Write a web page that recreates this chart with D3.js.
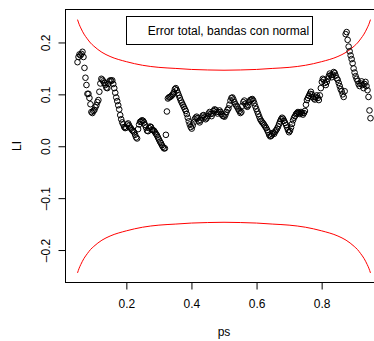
<!DOCTYPE html>
<head>
  <meta charset="utf-8">
  <script src="https://cdn.jsdelivr.net/npm/d3@7"></script>
  <style>
    body { margin:0; background:#fff; }
    text { font-family: "Liberation Sans", Arial, sans-serif; font-size: 12px; fill: #000; }
  </style>
</head>
<body>
<script>
  let width = 374,
      height = 341;

  // LI values left to right (ps = seq(0.05, 0.95, length = n))
  let li = [
    0.162,0.172,0.177,0.175,0.178,0.182,0.172,0.151,0.132,0.118,
    0.101,0.101,0.093,0.081,0.066,0.064,0.068,0.070,0.075,0.079,
    0.085,0.089,0.105,0.121,0.130,0.128,0.125,0.122,0.118,0.113,
    0.112,0.120,0.125,0.127,0.126,0.127,0.120,0.112,0.103,0.094,
    0.087,0.079,0.071,0.060,0.052,0.046,0.042,0.037,0.035,0.036,
    0.042,0.044,0.040,0.036,0.034,0.031,0.029,0.027,0.022,0.017,
    0.015,0.033,0.042,0.047,0.048,0.050,0.049,0.046,0.041,0.036,
    0.030,0.029,0.035,0.038,0.037,0.032,0.031,0.030,0.027,0.024,
    0.021,0.017,0.013,0.009,0.006,0.002,-0.001,-0.004,-0.004,0.022,
    0.067,0.092,0.094,0.095,0.096,0.098,0.100,0.104,0.110,0.112,
    0.108,0.103,0.098,0.093,0.088,0.084,0.080,0.076,0.072,0.068,
    0.062,0.055,0.048,0.042,0.037,0.034,0.040,0.046,0.052,0.055,
    0.057,0.054,0.049,0.046,0.050,0.055,0.059,0.060,0.056,0.052,
    0.054,0.058,0.063,0.066,0.062,0.058,0.063,0.068,0.071,0.070,
    0.066,0.063,0.066,0.069,0.066,0.062,0.059,0.058,0.057,0.061,
    0.066,0.070,0.073,0.080,0.088,0.093,0.094,0.090,0.085,0.081,
    0.078,0.075,0.071,0.068,0.064,0.066,0.078,0.085,0.088,0.082,
    0.078,0.076,0.079,0.086,0.089,0.090,0.091,0.088,0.083,0.077,
    0.072,0.067,0.062,0.057,0.052,0.049,0.046,0.044,0.041,0.038,
    0.035,0.031,0.027,0.022,0.019,0.020,0.023,0.026,0.024,0.028,
    0.031,0.034,0.038,0.043,0.048,0.052,0.055,0.053,0.049,0.045,
    0.041,0.036,0.031,0.027,0.030,0.036,0.043,0.050,0.055,0.058,
    0.062,0.064,0.066,0.064,0.062,0.066,0.064,0.061,0.064,0.068,
    0.080,0.089,0.093,0.097,0.101,0.105,0.100,0.095,0.092,0.090,
    0.095,0.098,0.093,0.089,0.098,0.112,0.124,0.130,0.128,0.122,
    0.118,0.124,0.130,0.135,0.140,0.137,0.133,0.138,0.143,0.141,
    0.136,0.131,0.128,0.122,0.116,0.110,0.106,0.100,0.095,0.106,
    0.216,0.220,0.205,0.192,0.183,0.175,0.168,0.160,0.150,0.142,
    0.135,0.130,0.126,0.120,0.116,0.121,0.125,0.118,0.112,0.120,
    0.124,0.116,0.108,0.095,0.069,0.054
  ];
  let psFrom = 0.05, psTo = 0.95;

  // error bands (normal), read at a few ps values
  let bandP  = [0.05,0.055,0.06,0.07,0.08,0.09,0.10,0.125,0.15,0.2,0.25,0.3,0.35,0.4,0.45,0.5,
                0.55,0.6,0.65,0.7,0.75,0.8,0.85,0.875,0.9,0.91,0.92,0.93,0.94,0.945,0.95];
  let bandHi = [0.244,0.235,0.228,0.216,0.207,0.199,0.193,0.181,0.173,0.163,0.156,0.152,0.150,0.148,0.147,0.1465,
                0.147,0.148,0.150,0.152,0.156,0.163,0.173,0.181,0.193,0.199,0.207,0.216,0.228,0.235,0.244];
  let bandLo = [-0.244,-0.235,-0.228,-0.216,-0.207,-0.199,-0.193,-0.181,-0.173,-0.163,-0.156,-0.152,-0.150,-0.148,-0.147,-0.1465,
                -0.147,-0.148,-0.150,-0.152,-0.156,-0.163,-0.173,-0.181,-0.193,-0.199,-0.207,-0.216,-0.228,-0.235,-0.244];

  let xTicks = [0.2, 0.4, 0.6, 0.8];
  let yTicks = [-0.2, -0.1, 0.0, 0.1, 0.2];
  let legendText = "Error total, bandas con normal";

  let svg = d3.select("body").append("svg")
    .attr("width", width)
    .attr("height", height);

  let x = d3.scaleLinear().domain([0.014, 0.986]).range([65.8, 382.2]);
  let y = d3.scaleLinear().domain([-0.2635, 0.2635]).range([283, 9.5]);

  let ps = d3.scaleLinear().domain([0, li.length - 1]).range([psFrom, psTo]);
  let pts = li.map((v, i) => ({ p: ps(i), v: v }));

  // R style labels: a dash a bit longer than a hyphen
  let fmt = d => d3.format(".1f")(d).replace("\u2212", "\u2013");

  // bands
  let line = d3.line().x(d => d[0]).y(d => d[1]).curve(d3.curveMonotoneX);
  [bandHi, bandLo].forEach(b => {
    svg.append("path")
      .attr("d", line(bandP.map((p, i) => [x(p), y(b[i])])))
      .attr("fill", "none")
      .attr("stroke", "red")
      .attr("stroke-width", 1);
  });

  // points
  svg.append("g").selectAll("circle")
    .data(pts)
    .enter().append("circle")
    .attr("cx", d => x(d.p))
    .attr("cy", d => y(d.v))
    .attr("r", 2.8)
    .attr("fill", "none")
    .attr("stroke", "#000")
    .attr("stroke-width", 1);

  // box
  svg.append("rect")
    .attr("x", 65.5).attr("y", 9.5)
    .attr("width", 317).attr("height", 273)
    .attr("fill", "none").attr("stroke", "#000");

  // x axis
  let gx = svg.append("g")
    .attr("transform", "translate(0,282.5)")
    .call(d3.axisBottom(x).tickValues(xTicks).tickSize(7).tickFormat(fmt));
  gx.select(".domain").remove();
  gx.selectAll("text").attr("y", 25.5).attr("dy", 0);

  // y axis
  let gy = svg.append("g")
    .attr("transform", "translate(65.5,0)")
    .call(d3.axisLeft(y).tickValues(yTicks).tickSize(7).tickFormat(fmt));
  gy.select(".domain").remove();
  gy.selectAll("text")
    .attr("transform", "rotate(-90)")
    .attr("x", 0).attr("y", -15.5).attr("dy", 0)
    .style("text-anchor", "middle");
  svg.selectAll(".tick line").attr("stroke", "#000");
  svg.selectAll(".tick text").style("font-size", "12px").style("font-family", "'Liberation Sans', Arial, sans-serif").attr("fill", "#000");

  // titles
  svg.append("text").attr("x", 224).attr("y", 335.5)
    .style("text-anchor", "middle").text("ps");
  svg.append("text")
    .attr("transform", "translate(21,146) rotate(-90)")
    .style("text-anchor", "middle").text("LI");

  // legend
  svg.append("rect")
    .attr("x", 126.5).attr("y", 16.5)
    .attr("width", 186).attr("height", 28)
    .attr("fill", "#fff").attr("stroke", "#000");
  svg.append("text").attr("x", 147.7).attr("y", 35).text(legendText);
</script>
</body>
